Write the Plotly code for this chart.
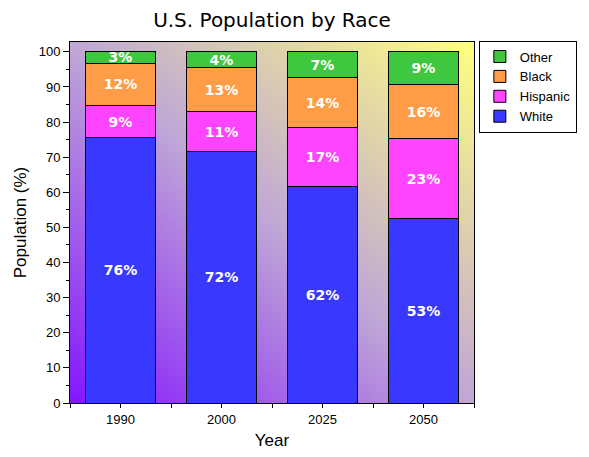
import base64
import struct
import zlib

import plotly.graph_objects as go

years = ['1990', '2000', '2025', '2050']
white = [75.5, 71.5, 61.7, 52.6]
hispanic = [9.2, 11.4, 16.8, 22.6]
black = [12.1, 12.7, 14.1, 15.5]
other = [3.2, 4.4, 7.4, 9.3]

series = [
    ('White', white, '#3838ff'),
    ('Hispanic', hispanic, '#ff44ff'),
    ('Black', black, '#ff9c48'),
    ('Other', other, '#3fc83f'),
]


def gradient_png(w, h, stops):
    # diagonal gradient, bottom-left -> top-right
    def mix(t):
        for (t0, c0), (t1, c1) in zip(stops, stops[1:]):
            if t <= t1:
                f = (t - t0) / (t1 - t0)
                return bytes(round(a + (b - a) * f) for a, b in zip(c0, c1))
        return bytes(stops[-1][1])

    raw = b''
    for j in range(h):
        raw += b'\x00'
        for i in range(w):
            raw += mix((i / (w - 1) + 1 - j / (h - 1)) / 2)

    def chunk(tag, data):
        return (struct.pack('>I', len(data)) + tag + data
                + struct.pack('>I', zlib.crc32(tag + data) & 0xffffffff))

    png = (b'\x89PNG\r\n\x1a\n'
           + chunk(b'IHDR', struct.pack('>IIBBBBB', w, h, 8, 2, 0, 0, 0))
           + chunk(b'IDAT', zlib.compress(raw))
           + chunk(b'IEND', b''))
    return 'data:image/png;base64,' + base64.b64encode(png).decode()


bg = gradient_png(120, 120, [
    (0.0, (0x84, 0x16, 0xff)),
    (0.5, (0xc0, 0xa8, 0xd6)),
    (1.0, (0xff, 0xff, 0x80)),
])

x = list(range(len(years)))

fig = go.Figure()
for name, vals, color in series:
    fig.add_trace(go.Bar(
        x=x, y=vals, name=name,
        marker=dict(color=color, line=dict(color='black', width=1)),
        width=0.7,
        texttemplate='%{y:.0f}%',
        textposition='inside',
        insidetextanchor='middle',
        textangle=0,
        textfont=dict(family='DejaVu Sans', size=14, color='white', weight='bold'),
    ))

fig.update_layout(
    barmode='stack',
    width=589, height=457,
    margin=dict(l=70, r=115, t=42, b=54),
    paper_bgcolor='white',
    plot_bgcolor='rgba(0,0,0,0)',
    uniformtext=dict(minsize=14, mode='show'),
    title=dict(text='U.S. Population by Race', x=0.5, xref='paper',
               y=0.957, yref='container', yanchor='middle',
               font=dict(family='DejaVu Sans', size=20, color='black')),
    font=dict(family='Liberation Sans', color='black'),
    showlegend=True,
    legend=dict(
        traceorder='reversed',
        x=1.012, xanchor='left', y=1.004, yanchor='top',
        bgcolor='white', bordercolor='black', borderwidth=1,
        font=dict(family='Liberation Sans', size=13),
        tracegroupgap=0,
    ),
    images=[dict(source=bg, xref='paper', yref='paper', x=0, y=1,
                 sizex=1, sizey=1, sizing='stretch',
                 xanchor='left', yanchor='top', layer='below')],
)

fig.update_xaxes(
    range=[-0.5, 3.5],
    tickvals=x, ticktext=years,
    ticks='outside', ticklen=4, tickcolor='black',
    minor=dict(tick0=-0.5, dtick=1, ticks='outside', ticklen=4, tickcolor='black'),
    showline=True, linecolor='black', linewidth=1, mirror=True,
    showgrid=False, zeroline=False,
    tickfont=dict(size=13),
    title=dict(text='Year', font=dict(size=17), standoff=8),
)
fig.update_yaxes(
    range=[0, 102.8],
    tick0=0, dtick=10,
    ticks='outside', ticklen=6, tickcolor='black',
    minor=dict(dtick=5, ticks='outside', ticklen=3, tickcolor='black'),
    showline=True, linecolor='black', linewidth=1, mirror=True,
    showgrid=False, zeroline=False,
    tickfont=dict(size=13),
    title=dict(text='Population (%)', font=dict(size=17), standoff=7),
)

# drop the browser's default 8px page margin so the figure sits at 0,0
fig.write_html('out.html', config={'displayModeBar': False},
               post_script="document.body.style.margin='0';")
